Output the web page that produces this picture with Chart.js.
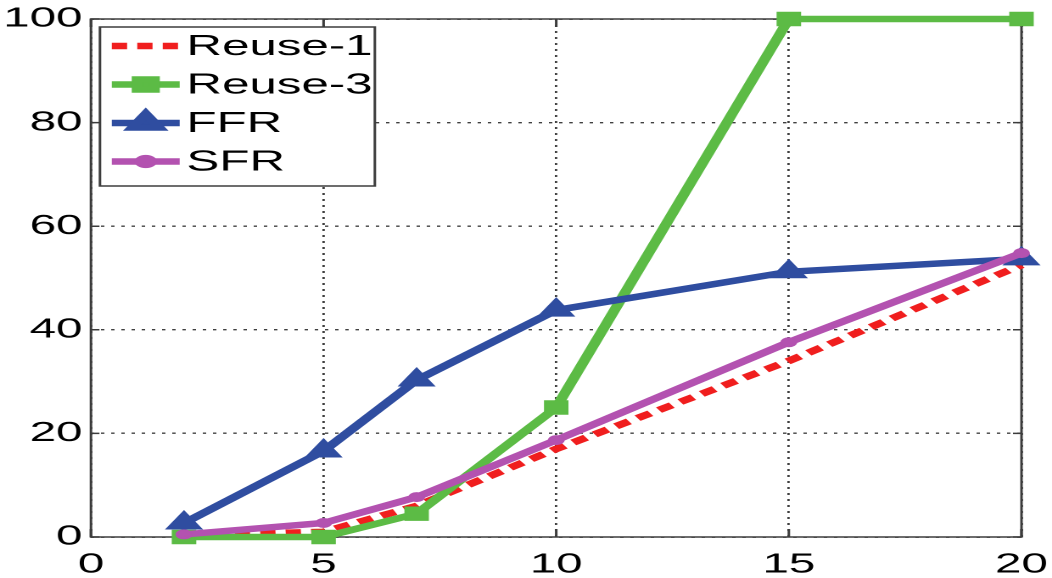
<!DOCTYPE html>
<html>
<head>
<meta charset="utf-8">
<script src="https://cdn.jsdelivr.net/npm/chart.js@4.4.0/dist/chart.umd.min.js"></script>
<style>
  html, body { margin: 0; padding: 0; background: #fff; overflow: hidden; }
  /* the figure is drawn narrow and stretched sideways, like the exported plot */
  #wrap { width: 620px; height: 578px; transform: scaleX(1.6968); transform-origin: 0 0; }
  #chart { width: 620px; height: 578px; }
</style>
</head>
<body>
<div id="wrap"><canvas id="chart" width="620" height="578"></canvas></div>
<script>
// number of users per cell (x) and results per scheme (y)
const userCounts = [2, 5, 7, 10, 15, 20];
const reuse1 = [0.3, 1, 6, 17, 34, 52.5];
const reuse3 = [0, 0, 4.5, 25, 100, 100];
const ffr = [2.7, 16.6, 30.3, 43.8, 51.2, 53.7];
const sfr = [0.5, 2.7, 7.7, 18.7, 37.6, 54.8];

const xTicks = [0, 5, 10, 15, 20];
const yTicks = [0, 20, 40, 60, 80, 100];

const FONT = '"Liberation Sans", Arial, Helvetica, sans-serif';

function points(values) {
  return userCounts.map((x, i) => ({ x: x, y: values[i] }));
}

// solid frame with inward tick marks on all four sides
const axesBox = {
  id: 'axesBox',
  beforeDatasetsDraw(chart) {
    const { ctx, chartArea: a, scales: { x, y } } = chart;
    ctx.save();
    ctx.strokeStyle = '#3c3c3c';
    ctx.lineWidth = 1.5;
    ctx.strokeRect(a.left, a.top, a.right - a.left, a.bottom - a.top);
    ctx.beginPath();
    x.ticks.forEach(t => {
      const px = x.getPixelForValue(t.value);
      ctx.moveTo(px, a.bottom); ctx.lineTo(px, a.bottom - 8);
      ctx.moveTo(px, a.top); ctx.lineTo(px, a.top + 8);
    });
    y.ticks.forEach(t => {
      const py = y.getPixelForValue(t.value);
      ctx.moveTo(a.left, py); ctx.lineTo(a.left + 5, py);
      ctx.moveTo(a.right, py); ctx.lineTo(a.right - 5, py);
    });
    ctx.stroke();
    ctx.restore();
  }
};

// boxed legend in the top-left corner of the plot
const boxLegend = {
  id: 'boxLegend',
  afterDraw(chart) {
    const { ctx, chartArea: a } = chart;
    const left = a.left + 5.3, top = a.top + 8, w = 162, h = 159;
    ctx.save();
    ctx.fillStyle = '#fff';
    ctx.fillRect(left, top, w, h);
    ctx.strokeStyle = '#3c3c3c';
    ctx.lineWidth = 1.5;
    ctx.strokeRect(left, top, w, h);
    ctx.font = '29px ' + FONT;
    ctx.textBaseline = 'middle';
    chart.data.datasets.forEach((ds, i) => {
      const cy = top + 19 + i * 38.5;
      ctx.strokeStyle = ds.borderColor;
      ctx.lineWidth = ds.borderWidth;
      ctx.setLineDash(ds.borderDash || []);
      ctx.beginPath();
      ctx.moveTo(left + 7, cy);
      ctx.lineTo(left + 47, cy);
      ctx.stroke();
      ctx.setLineDash([]);
      if (ds.pointRadius > 0) {
        ctx.fillStyle = ds.pointBackgroundColor;
        ctx.strokeStyle = ds.borderColor;
        Chart.helpers.drawPoint(ctx, {
          pointStyle: ds.pointStyle,
          radius: ds.pointRadius * 0.75,
          borderWidth: 1
        }, left + 27, cy);
      }
      ctx.fillStyle = '#000';
      ctx.fillText(ds.label, left + 51, cy + 1);
    });
    ctx.restore();
  }
};

new Chart(document.getElementById('chart'), {
  type: 'line',
  data: {
    datasets: [
      {
        label: 'Reuse-1',
        data: points(reuse1),
        borderColor: '#f01e1e',
        backgroundColor: '#f01e1e',
        pointBackgroundColor: '#f01e1e',
        borderWidth: 6.5,
        borderDash: [9, 6],
        pointRadius: 0,
        order: 4
      },
      {
        label: 'Reuse-3',
        data: points(reuse3),
        borderColor: '#5cbb45',
        backgroundColor: '#5cbb45',
        pointBackgroundColor: '#5cbb45',
        borderWidth: 6.5,
        pointStyle: 'rect',
        pointRadius: 9.5,
        pointBorderWidth: 1,
        order: 3
      },
      {
        label: 'FFR',
        data: points(ffr),
        borderColor: '#2f4da0',
        backgroundColor: '#2f4da0',
        pointBackgroundColor: '#2f4da0',
        borderWidth: 6.5,
        pointStyle: 'triangle',
        pointRadius: 12,
        pointBorderWidth: 1,
        order: 2
      },
      {
        label: 'SFR',
        data: points(sfr),
        borderColor: '#b352b0',
        backgroundColor: '#b352b0',
        pointBackgroundColor: '#b352b0',
        borderWidth: 6.5,
        pointStyle: 'circle',
        pointRadius: 4.5,
        pointBorderWidth: 1,
        order: 1
      }
    ]
  },
  options: {
    responsive: false,
    animation: false,
    devicePixelRatio: 2,
    clip: false,
    layout: { padding: { top: 19, right: 18, left: 0, bottom: 0 } },
    plugins: { legend: { display: false }, tooltip: { enabled: false } },
    elements: { line: { tension: 0 } },
    scales: {
      x: {
        type: 'linear',
        min: 0,
        max: 20,
        afterBuildTicks: s => { s.ticks = xTicks.map(v => ({ value: v })); },
        afterFit: s => { s.height = 41; s.paddingLeft = 0; s.paddingRight = 0; },
        ticks: { color: '#000', font: { family: FONT, size: 28 }, padding: 11, maxRotation: 0 },
        grid: { color: '#404040', lineWidth: 1.4, drawTicks: false },
        border: { display: false, dash: [2, 4] }
      },
      y: {
        min: 0,
        max: 100,
        afterBuildTicks: s => { s.ticks = yTicks.map(v => ({ value: v })); },
        afterFit: s => { s.width = 53.6; s.paddingTop = 0; s.paddingBottom = 0; },
        ticks: { color: '#000', font: { family: FONT, size: 28 }, padding: 5 },
        grid: { color: '#404040', lineWidth: 1.4, drawTicks: false },
        border: { display: false, dash: [2, 4] }
      }
    }
  },
  plugins: [axesBox, boxLegend]
});
</script>
</body>
</html>
